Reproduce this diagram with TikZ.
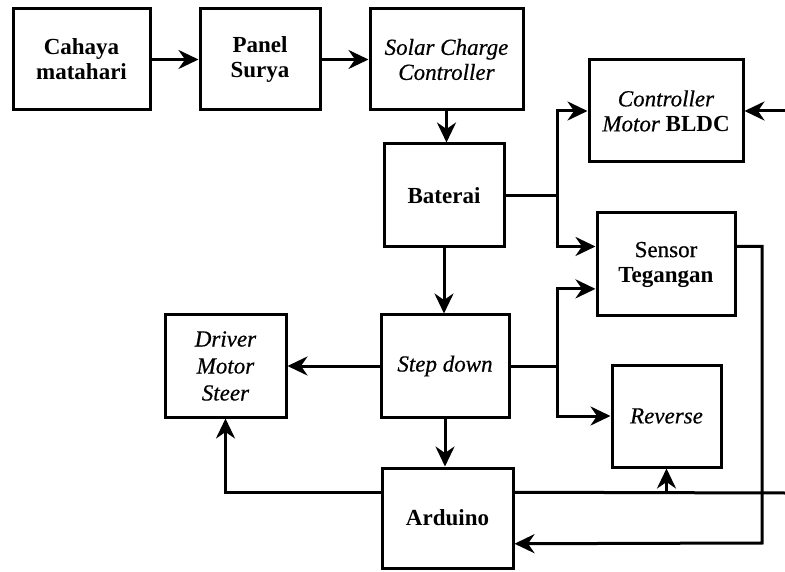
\documentclass[tikz,border=0pt]{standalone}
\usepackage{fontspec}
\setmainfont{Liberation Serif}[UprightFeatures={FakeBold=0.5}, ItalicFeatures={FakeBold=0.5}]
\usetikzlibrary{arrows.meta,calc}
\tikzset{
  blk/.style={draw=black, line width=3pt, fill=white, align=center, inner sep=2pt,
    font=\fontsize{23}{25}\selectfont},
  con/.style={line width=3pt, draw=black},
  arr/.style={con, -{Stealth[length=20pt,width=19pt,inset=6.5pt]}}
}
\begin{document}
\begin{tikzpicture}[x=1pt,y=-1pt]
\useasboundingbox (0,0) rectangle (785,572);
\node[blk, minimum width=137pt, minimum height=101pt] (cah) at (81.5,59.5) {\textbf{Cahaya}\\\textbf{matahari}};
\node[blk, minimum width=120pt, minimum height=101pt] (pan) at (260,59.5) {\textbf{Panel}\\\textbf{Surya}};
\node[blk, minimum width=153pt, minimum height=101pt] (scc) at (446.5,59.5) {\textit{Solar Charge}\\\textit{Controller}};
\node[blk, minimum width=120pt, minimum height=103pt] (bat) at (444,195.5) {\textbf{Baterai}};
\node[blk, minimum width=128pt, minimum height=102pt] (sd) at (445,366) {\textit{Step down}};
\node[blk, minimum width=131pt, minimum height=100pt] (ard) at (447.5,518) {\textbf{Arduino}};
\node[blk, minimum width=121pt, minimum height=102pt, font=\fontsize{23}{27}\selectfont] (drv) at (225.5,366) {\textit{Driver}\\\textit{Motor}\\\textit{Steer}};
\node[blk, minimum width=154pt, minimum height=102pt] (bldc) at (666,111) {\textit{Controller}\\\textit{Motor} \textbf{BLDC}};
\node[blk, minimum width=138pt, minimum height=103pt] (sens) at (666,264.5) {Sensor\\\textbf{Tegangan}};
\node[blk, minimum width=109pt, minimum height=102pt] (rev) at (666.5,416) {\textit{Reverse}};

% ports
\coordinate (sp1) at ($(sens.north west)!0.33!(sens.south west)$);
\coordinate (sp2) at ($(sens.north west)!0.73!(sens.south west)$);
\coordinate (se) at ($(sens.north east)!0.33!(sens.south east)$);
\coordinate (aw) at ($(ard.north west)!0.25!(ard.south west)$);
\coordinate (ae) at ($(ard.north east)!0.25!(ard.south east)$);
\coordinate (ae2) at ($(ard.north east)!0.75!(ard.south east)$);
\coordinate (j1) at (557,195.5);
\coordinate (j2) at (557,366);
\coordinate (c1) at (762,543);
\coordinate (outR) at (785,493);
\coordinate (inR) at (785,111);

\draw[arr] (cah) -- (pan);
\draw[arr] (pan) -- (scc);
\draw[arr] (scc.south) -- (scc.south |- bat.north);
\draw[arr] (bat.south) -- (bat.south |- sd.north);
\draw[con] (bat.east) -- (j1);
\draw[arr] (j1) |- (bldc.west);
\draw[arr] (j1) |- (sp1);
\draw[con] (sd.east) -- (j2);
\draw[arr] (j2) |- (sp2);
\draw[arr] (j2) |- (rev.west);
\draw[arr] (sd.west) -- (drv.east);
\draw[arr] (sd.south) -- (sd.south |- ard.north);
\draw[arr] (aw) -| (drv.south);
\draw[con] (ae) -- (outR);
\draw[arr] (rev.south |- ae) -- (rev.south);
\draw[arr] (se) -| (c1) -- (ae2);
\draw[arr] (inR) -- (bldc.east);
\end{tikzpicture}
\end{document}
